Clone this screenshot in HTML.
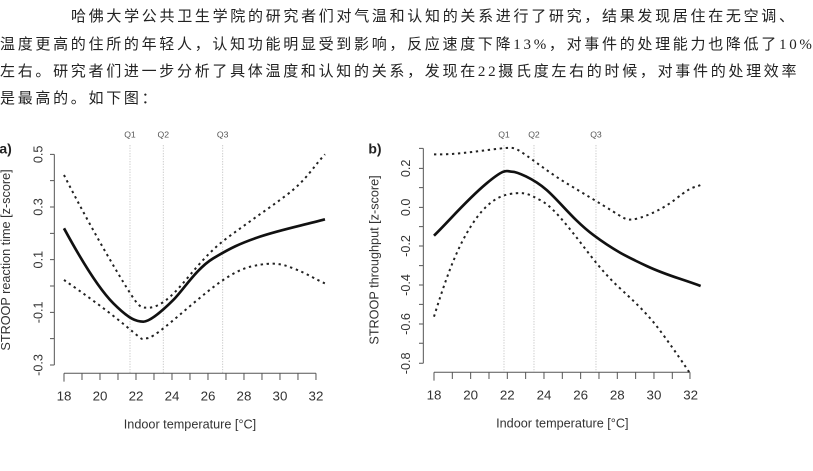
<!DOCTYPE html>
<html><head><meta charset="utf-8"><style>
body{margin:0;width:813px;height:471px;background:#fff;overflow:hidden;position:relative;font-family:"Liberation Sans","Noto Sans CJK SC",sans-serif}
.t{position:absolute;left:0;font-size:15px;letter-spacing:2.7px;line-height:18px;white-space:nowrap;color:#222;font-family:"Liberation Serif","Noto Sans CJK SC",sans-serif}
svg{position:absolute;left:0;top:0}
</style></head><body>
<div class="t" style="top:8px;left:71px">哈佛大学公共卫生学院的研究者们对气温和认知的关系进行了研究，结果发现居住在无空调、</div>
<div class="t" style="top:36px">温度更高的住所的年轻人，认知功能明显受到影响，反应速度下降13%，对事件的处理能力也降低了10%</div>
<div class="t" style="top:63px">左右。研究者们进一步分析了具体温度和认知的关系，发现在22摄氏度左右的时候，对事件的处理效率</div>
<div class="t" style="top:90px">是最高的。如下图：</div>
<svg width="813" height="471" viewBox="0 0 813 471">
<g transform="translate(0,120) scale(0.3333)" font-family="Liberation Sans,sans-serif" fill="none">
 <g stroke="#ccc" stroke-width="3" stroke-dasharray="4 4"><path d="M390 75V760M490 75V760M668 75V760"/></g>
 <g fill="#555" font-size="26" text-anchor="middle"><text x="390" y="53">Q1</text><text x="490" y="53">Q2</text><text x="668" y="53">Q3</text></g>
 <text x="-2" y="100" font-size="42" font-weight="bold" fill="#222">a)</text>
 <g stroke="#555" stroke-width="3"><path d="M163 103V735M150 103H163M150 182H163M150 261H163M150 340H163M150 419H163M150 498H163M150 577H163M150 656H163M150 735H163"/>
 <path d="M192 760H948M192 760v25M246 760v20M300 760v20M354 760v20M408 760v20M462 760v20M516 760v20M570 760v20M624 760v20M678 760v20M732 760v20M786 760v20M840 760v20M894 760v20M948 760v20"/></g>
 <g fill="#333" font-size="40" text-anchor="middle"><text x="192" y="842">18</text><text x="300" y="842">20</text><text x="408" y="842">22</text><text x="516" y="842">24</text><text x="624" y="842">26</text><text x="732" y="842">28</text><text x="840" y="842">30</text><text x="948" y="842">32</text>
 <text x="570" y="925" font-size="38">Indoor temperature [°C]</text></g>
 <g fill="#333" font-size="38" text-anchor="middle"><text transform="translate(128,103) rotate(-90)">0.5</text><text transform="translate(128,261) rotate(-90)">0.3</text><text transform="translate(128,419) rotate(-90)">0.1</text><text transform="translate(128,577) rotate(-90)">-0.1</text><text transform="translate(128,735) rotate(-90)">-0.3</text>
 <text transform="translate(30,420) rotate(-90)" font-size="38">STROOP reaction time [z-score]</text></g>
 <path stroke="#111" stroke-width="8" d="M192 325C230 395 290 500 340 550S410 605 430 605S490 570 520 540S590 445 640 415S720 370 780 350S900 318 975 298"/>
 <g stroke="#222" stroke-width="6" stroke-dasharray="7 11">
 <path d="M192 165C240 260 300 370 360 470S420 563 445 563S500 545 540 500S620 400 680 355S800 270 860 225S940 140 975 103"/>
 <path d="M192 480C250 520 320 570 380 620S420 655 440 655S520 600 580 550S700 450 760 438S840 430 880 445S950 480 975 490"/>
 </g>
</g>
<g transform="translate(360,120) scale(0.3333)" font-family="Liberation Sans,sans-serif" fill="none">
 <g stroke="#ccc" stroke-width="3" stroke-dasharray="4 4"><path d="M432 75V757M522 75V757M708 75V757"/></g>
 <g fill="#555" font-size="26" text-anchor="middle"><text x="432" y="53">Q1</text><text x="522" y="53">Q2</text><text x="708" y="53">Q3</text></g>
 <text x="25" y="100" font-size="42" font-weight="bold" fill="#222">b)</text>
 <g stroke="#555" stroke-width="3"><path d="M190 85V730M177 85H190M177 145H190M177 203H190M177 262H190M177 320H190M177 378H190M177 437H190M177 495H190M177 553H190M177 612H190M177 670H190M177 730H190"/>
 <path d="M222 757H990M222 757v25M277 757v20M332 757v20M387 757v20M442 757v20M497 757v20M552 757v20M607 757v20M662 757v20M717 757v20M772 757v20M827 757v20M882 757v20M937 757v20M990 757v20"/></g>
 <g fill="#333" font-size="40" text-anchor="middle"><text x="222" y="838">18</text><text x="332" y="838">20</text><text x="442" y="838">22</text><text x="552" y="838">24</text><text x="662" y="838">26</text><text x="772" y="838">28</text><text x="882" y="838">30</text><text x="992" y="838">32</text>
 <text x="607" y="922" font-size="38">Indoor temperature [°C]</text></g>
 <g fill="#333" font-size="38" text-anchor="middle"><text transform="translate(150,145) rotate(-90)">0.2</text><text transform="translate(150,262) rotate(-90)">0.0</text><text transform="translate(150,378) rotate(-90)">-0.2</text><text transform="translate(150,495) rotate(-90)">-0.4</text><text transform="translate(150,612) rotate(-90)">-0.6</text><text transform="translate(150,730) rotate(-90)">-0.8</text>
 <text transform="translate(55,420) rotate(-90)" font-size="38">STROOP throughput [z-score]</text></g>
 <path stroke="#111" stroke-width="8" d="M222 347C270 300 320 240 380 190S440 155 455 155S520 175 560 210S640 300 700 345S800 410 860 438S960 475 1022 498"/>
 <g stroke="#222" stroke-width="6" stroke-dasharray="7 11">
 <path d="M222 103C280 105 340 95 400 88S460 80 490 100S570 160 620 190S720 250 760 275S800 300 820 298S900 275 950 235S1000 205 1022 195"/>
 <path d="M222 590C250 500 280 410 320 340S400 230 450 222S510 225 540 240S600 290 640 340S720 450 780 505S870 590 910 645S970 730 990 760"/>
 </g>
</g>
</svg>
</body></html>
